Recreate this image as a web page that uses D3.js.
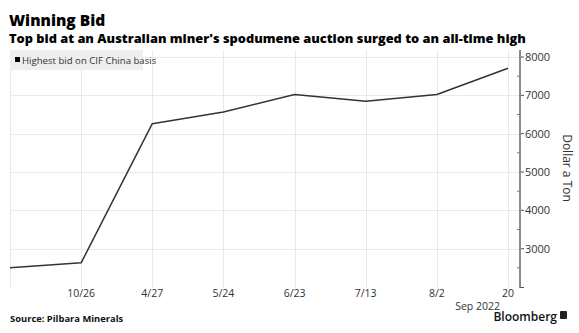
<!DOCTYPE html>
<html>
<head>
<meta charset="utf-8">
<script src="https://cdn.jsdelivr.net/npm/d3@7"></script>
<style>
  html, body { margin: 0; padding: 0; background: #fff; }
  svg { display: block; }
  text { font-family: "Open Sans", "Noto Sans", sans-serif; }
</style>
</head>
<body>
<svg id="chart" width="579" height="333"></svg>
<script>
// Auction dates (evenly spaced), tick labels and winning bids in US$ per ton
const dates = ["2021-09-14", "2021-10-26", "2022-04-27", "2022-05-24", "2022-06-23", "2022-07-13", "2022-08-02", "2022-09-20"];
const tickLabels = ["", "10/26", "4/27", "5/24", "6/23", "7/13", "8/2", "20"];
const bids = [2500, 2630, 6260, 6565, 7020, 6845, 7020, 7708];
const yTicks = [3000, 4000, 5000, 6000, 7000, 8000];
const yMinorTicks = [2500, 3500, 4500, 5500, 6500, 7500];

const svg = d3.select("#chart");

const plot = { left: 10, right: 520, top: 50, bottom: 287 };

const x = d3.scalePoint().domain(dates).range([10, 508]);
const y = d3.scaleLinear().domain([2000, 8000]).range([plot.bottom, 57]);

// Title block
svg.append("text").attr("x", 9).attr("y", 25.5)
  .style("font-size", "15.5px").style("font-weight", "800").attr("fill", "#000")
  .text("Winning Bid");
svg.append("text").attr("x", 9).attr("y", 42.5)
  .style("font-size", "12.8px").style("font-weight", "800").attr("fill", "#000")
  .text("Top bid at an Australian miner's spodumene auction surged to an all-time high");

// Grid
const grid = svg.append("g").attr("stroke", "#e9e9e9").attr("stroke-width", 1);
grid.selectAll("line.h").data(yTicks).join("line")
  .attr("x1", plot.left).attr("x2", plot.right)
  .attr("y1", d => Math.round(y(d)) + 0.5).attr("y2", d => Math.round(y(d)) + 0.5);
grid.selectAll("line.v").data(dates).join("line")
  .attr("x1", d => Math.round(x(d)) + 0.5).attr("x2", d => Math.round(x(d)) + 0.5)
  .attr("y1", plot.top).attr("y2", plot.bottom);

// Legend
const legend = svg.append("g");
legend.append("rect").attr("x", 10).attr("y", 50).attr("width", 133).attr("height", 20).attr("fill", "#eeeeee");
legend.append("rect").attr("x", 15).attr("y", 57).attr("width", 5).attr("height", 5).attr("fill", "#000");
legend.append("text").attr("x", 22).attr("y", 63.5)
  .style("font-size", "9.6px").attr("fill", "#333")
  .text("Highest bid on CIF China basis");

// Series line
const line = d3.line().x((d, i) => x(dates[i])).y(d => y(d));
svg.append("path").datum(bids)
  .attr("fill", "none").attr("stroke", "#333").attr("stroke-width", 1.5)
  .attr("stroke-linejoin", "round")
  .attr("d", line);

// Right value axis
const yAxis = svg.append("g").attr("transform", `translate(${plot.right},0)`);
yAxis.append("line").attr("x1", 0).attr("x2", 0).attr("y1", plot.top).attr("y2", plot.bottom + 1)
  .attr("stroke", "#8c8c8c").attr("stroke-width", 2);
yAxis.selectAll("line.maj").data(yTicks).join("line")
  .attr("x1", 1).attr("x2", 4).attr("y1", d => y(d)).attr("y2", d => y(d))
  .attr("stroke", "#555").attr("stroke-width", 1);
yAxis.selectAll("line.min").data(yMinorTicks).join("line")
  .attr("x1", -3).attr("x2", 0).attr("y1", d => y(d)).attr("y2", d => y(d))
  .attr("stroke", "#777").attr("stroke-width", 1);
yAxis.append("line").attr("x1", 0).attr("x2", 4).attr("y1", plot.bottom + 0.5).attr("y2", plot.bottom + 0.5)
  .attr("stroke", "#555");
yAxis.selectAll("text").data(yTicks).join("text")
  .attr("x", 5).attr("y", d => y(d) + 4)
  .style("font-size", "11px").attr("fill", "#333")
  .text(d => d);

svg.append("text")
  .attr("transform", "translate(563,168) rotate(90)")
  .attr("text-anchor", "middle")
  .style("font-size", "12px").attr("fill", "#333")
  .text("Dollar a Ton");

// Bottom date axis
svg.append("g").selectAll("text").data(dates).join("text")
  .attr("x", d => x(d)).attr("y", 297)
  .attr("text-anchor", "middle")
  .style("font-size", "10.5px").attr("fill", "#333")
  .text((d, i) => tickLabels[i]);
svg.append("text").attr("x", 500).attr("y", 309.5).attr("text-anchor", "end")
  .style("font-size", "10.5px").attr("fill", "#333")
  .text("Sep 2022");

// Footer
svg.append("text").attr("x", 10).attr("y", 322)
  .style("font-size", "9.4px").style("font-weight", "700").attr("fill", "#111")
  .text("Source: Pilbara Minerals");
svg.append("text").attr("x", 557).attr("y", 321).attr("text-anchor", "end")
  .style("font-size", "12px").style("font-weight", "600").attr("fill", "#111")
  .text("Bloomberg");
svg.append("rect").attr("x", 560).attr("y", 311).attr("width", 7).attr("height", 8).attr("rx", 1).attr("fill", "#222");
</script>
</body>
</html>
